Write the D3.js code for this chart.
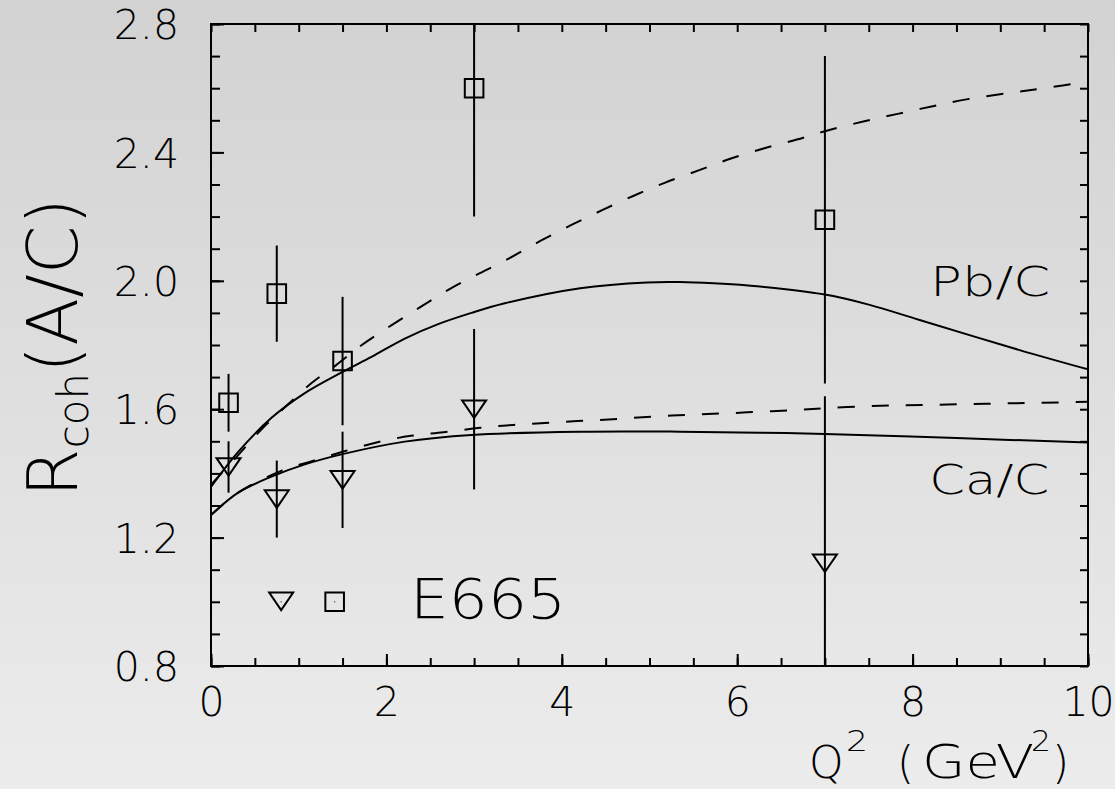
<!DOCTYPE html>
<html>
<head>
<meta charset="utf-8">
<script src="https://cdn.jsdelivr.net/npm/d3@7"></script>
<style>
  html, body { margin: 0; padding: 0; background: #dedede; }
  body { width: 1115px; height: 789px; overflow: hidden; }
  text { font-family: "DejaVu Sans", "Liberation Sans", sans-serif; font-weight: 200; fill: #000; }
</style>
</head>
<body>
<svg id="chart" width="1115" height="789"></svg>
<script>
// E665 measurements: coherent ratio R_coh(A/C) versus Q^2
const pbQ   = [0.2, 0.75, 1.5, 3.0, 7.0];
const pbR   = [1.62, 1.96, 1.75, 2.60, 2.19];
const pbErr = [0.09, 0.15, 0.20, 0.40, 0.51];

const caQ   = [0.2, 0.75, 1.5, 3.0, 7.0];
const caR   = [1.42, 1.32, 1.38, 1.60, 1.12];
const caErr = [0.08, 0.12, 0.15, 0.25, 0.52];

// Model predictions (solid and dashed) for Pb/C
const pbSolidQ = [0, 0.31, 0.69, 1.07, 1.5, 1.83, 2.21, 2.59, 2.97, 3.35, 4.21, 4.97, 5.35, 5.73, 6.26, 7.0, 7.51, 8.08, 9.22, 10];
const pbSolidR = [1.358, 1.467, 1.573, 1.65, 1.716, 1.763, 1.82, 1.865, 1.90, 1.93, 1.977, 1.995, 1.996, 1.992, 1.982, 1.957, 1.925, 1.878, 1.784, 1.724];
const pbDashQ  = [0, 0.32, 0.56, 0.83, 1.14, 1.43, 1.72, 2.06, 2.39, 2.72, 3.06, 3.4, 3.76, 4.11, 4.46, 4.82, 5.18, 5.56, 5.92, 6.31, 6.68, 7.05, 7.45, 7.83, 8.23, 8.63, 9.1, 9.5, 10];
const pbDashR  = [1.365, 1.46, 1.533, 1.603, 1.68, 1.738, 1.80, 1.862, 1.919, 1.974, 2.023, 2.07, 2.125, 2.174, 2.22, 2.265, 2.306, 2.344, 2.38, 2.413, 2.44, 2.47, 2.497, 2.52, 2.544, 2.566, 2.585, 2.60, 2.62];

// Model predictions (solid and dashed) for Ca/C
const caSolidQ = [0, 0.31, 0.69, 1.07, 1.5, 2.21, 2.97, 4.21, 5.35, 6.26, 7.0, 8.5, 10];
const caSolidR = [1.27, 1.34, 1.39, 1.428, 1.46, 1.499, 1.52, 1.53, 1.53, 1.527, 1.523, 1.51, 1.496];
const caDashQ  = [0, 0.31, 0.8, 1.15, 1.51, 1.91, 2.28, 2.65, 3.07, 3.45, 3.85, 4.25, 4.65, 5.05, 5.46, 5.86, 6.26, 6.66, 7.0, 7.45, 7.86, 8.26, 8.66, 9.05, 9.46, 10];
const caDashR  = [1.27, 1.34, 1.408, 1.438, 1.468, 1.498, 1.517, 1.528, 1.542, 1.551, 1.558, 1.564, 1.57, 1.577, 1.583, 1.587, 1.592, 1.597, 1.603, 1.609, 1.612, 1.614, 1.616, 1.618, 1.62, 1.623];

// Axis ticks and labels
const xMajor = [0, 2, 4, 6, 8, 10];
const xTickLabels = ["0", "2", "4", "6", "8", "10"];
const yMajor = [0.8, 1.2, 1.6, 2.0, 2.4, 2.8];
const yTickLabels = ["0.8", "1.2", "1.6", "2.0", "2.4", "2.8"];

const svg = d3.select("#chart");
const W = 1115, H = 789;
const margin = { left: 211, right: 27, top: 24, bottom: 123 };

const x = d3.scaleLinear().domain([0, 10]).range([margin.left, W - margin.right]);
const y = d3.scaleLinear().domain([0.8, 2.8]).range([H - margin.bottom, margin.top]);

// background
const defs = svg.append("defs");
const grad = defs.append("linearGradient").attr("id", "bg").attr("x1", 0).attr("y1", 0).attr("x2", 0).attr("y2", 1);
grad.append("stop").attr("offset", "0%").attr("stop-color", "#d2d2d2");
grad.append("stop").attr("offset", "100%").attr("stop-color", "#ececec");
svg.append("rect").attr("width", W).attr("height", H).attr("fill", "url(#bg)");

defs.append("clipPath").attr("id", "plotClip")
  .append("rect")
  .attr("x", x(0)).attr("y", y(2.8))
  .attr("width", x(10) - x(0)).attr("height", y(0.8) - y(2.8));

const range = (a, b, s) => d3.range(Math.round((b - a) / s) + 1).map(i => +(a + i * s).toFixed(3));

// minor ticks on all four sides (pointing inward)
const tickStyle = g => g.call(s => s.select(".domain").remove())
  .call(s => s.selectAll("line").attr("stroke", "#000").attr("stroke-width", 2));

svg.append("g").attr("transform", `translate(${x(0)},0)`)
  .call(d3.axisLeft(y).tickValues(range(0.8, 2.8, 0.1)).tickSize(-9).tickFormat(""))
  .call(tickStyle);
svg.append("g").attr("transform", `translate(${x(10)},0)`)
  .call(d3.axisRight(y).tickValues(range(0.8, 2.8, 0.1)).tickSize(-8).tickFormat(""))
  .call(tickStyle);
svg.append("g").attr("transform", `translate(0,${y(0.8)})`)
  .call(d3.axisBottom(x).tickValues(range(0, 10, 0.5)).tickSize(-8).tickFormat(""))
  .call(tickStyle);
svg.append("g").attr("transform", `translate(0,${y(2.8)})`)
  .call(d3.axisTop(x).tickValues(range(0, 10, 0.5)).tickSize(-8).tickFormat(""))
  .call(tickStyle);

// major ticks with labels
const yAxis = svg.append("g").attr("transform", `translate(${x(0)},0)`)
  .call(d3.axisLeft(y).tickValues(yMajor).tickSize(-13).tickPadding(32)
    .tickFormat((d, i) => yTickLabels[i]))
  .call(tickStyle);

const xAxis = svg.append("g").attr("transform", `translate(0,${y(0.8)})`)
  .call(d3.axisBottom(x).tickValues(xMajor).tickSize(-12).tickPadding(21)
    .tickFormat((d, i) => xTickLabels[i]))
  .call(tickStyle);

svg.selectAll("g").attr("font-family", null).attr("font-size", null);
yAxis.selectAll("text").attr("font-size", 41).attr("dy", "0.36em");
xAxis.selectAll("text").attr("font-size", 41);

// frame
svg.append("rect")
  .attr("x", x(0)).attr("y", y(2.8))
  .attr("width", x(10) - x(0)).attr("height", y(0.8) - y(2.8))
  .attr("fill", "none").attr("stroke", "#000").attr("stroke-width", 2);

// model curves
const plot = svg.append("g").attr("clip-path", "url(#plotClip)");
const line = d3.line().x(d => x(d[0])).y(d => y(d[1])).curve(d3.curveCatmullRom.alpha(0.5));
const curves = [
  { q: pbSolidQ, r: pbSolidR, dash: null },
  { q: pbDashQ,  r: pbDashR,  dash: "17,17" },
  { q: caSolidQ, r: caSolidR, dash: null },
  { q: caDashQ,  r: caDashR,  dash: "17,17" }
];
curves.forEach(c => {
  plot.append("path")
    .datum(c.q.map((q, i) => [q, c.r[i]]))
    .attr("d", line)
    .attr("fill", "none")
    .attr("stroke", "#000")
    .attr("stroke-width", 2)
    .attr("stroke-dasharray", c.dash);
});

// error bars
const bars = [];
pbQ.forEach((q, i) => bars.push([q, pbR[i] - pbErr[i], pbR[i] + pbErr[i]]));
caQ.forEach((q, i) => bars.push([q, caR[i] - caErr[i], caR[i] + caErr[i]]));
plot.selectAll("line.err").data(bars).join("line")
  .attr("class", "err")
  .attr("x1", d => x(d[0])).attr("x2", d => x(d[0]))
  .attr("y1", d => y(d[1])).attr("y2", d => y(d[2]))
  .attr("stroke", "#000").attr("stroke-width", 2);

// markers
const sq = 9.3;
const squarePath = (cx, cy) => `M${cx - sq},${cy - sq}H${cx + sq}V${cy + sq}H${cx - sq}Z`;
const triPath = (cx, cy) => `M${cx - 12},${cy - 8.8}H${cx + 12}L${cx},${cy + 8.8}Z`;

plot.selectAll("path.pb").data(pbQ).join("path")
  .attr("class", "pb")
  .attr("d", (q, i) => squarePath(x(q), y(pbR[i])))
  .attr("fill", "none").attr("stroke", "#000").attr("stroke-width", 2);
plot.selectAll("path.ca").data(caQ).join("path")
  .attr("class", "ca")
  .attr("d", (q, i) => triPath(x(q), y(caR[i])))
  .attr("fill", "none").attr("stroke", "#000").attr("stroke-width", 2);

// legend
const legY = 1.0;
svg.append("path").attr("d", triPath(x(0.8), y(legY) - 0.5))
  .attr("fill", "none").attr("stroke", "#000").attr("stroke-width", 2);
svg.append("path").attr("d", squarePath(x(1.41), y(legY)))
  .attr("fill", "none").attr("stroke", "#000").attr("stroke-width", 2);
svg.append("rect").attr("x", x(0.8) - 0.5).attr("y", y(legY) - 0.5).attr("width", 1).attr("height", 1).attr("fill", "#000");
svg.append("rect").attr("x", x(1.41) - 0.5).attr("y", y(legY) - 0.5).attr("width", 1).attr("height", 1).attr("fill", "#000");
svg.append("text")
  .attr("x", x(2.27)).attr("y", y(0.95))
  .attr("font-size", 56).attr("textLength", 156).attr("lengthAdjust", "spacingAndGlyphs")
  .text("E665");

// curve labels
svg.append("text")
  .attr("x", x(8.2)).attr("y", y(1.953))
  .attr("font-size", 40).attr("textLength", 120).attr("lengthAdjust", "spacingAndGlyphs")
  .text("Pb/C");
svg.append("text")
  .attr("x", x(8.19)).attr("y", y(1.336))
  .attr("font-size", 40).attr("textLength", 120).attr("lengthAdjust", "spacingAndGlyphs")
  .text("Ca/C");

// y-axis title
const yt = svg.append("text").attr("transform", "translate(77,497) rotate(-90)");
yt.append("tspan").attr("font-size", 70).text("R");
yt.append("tspan").attr("font-size", 42).attr("dy", 11).text("coh");
yt.append("tspan").attr("font-size", 70).attr("dy", -11).text("(A/C)");

// x-axis title
const xt = svg.append("g");
xt.append("text").attr("x", 809).attr("y", 778).attr("font-size", 44).text("Q");
xt.append("text").attr("x", 846).attr("y", 751).attr("font-size", 29)
  .attr("textLength", 22).attr("lengthAdjust", "spacingAndGlyphs").text("2");
xt.append("text").attr("x", 897).attr("y", 778).attr("font-size", 44).text("(");
xt.append("text").attr("x", 922).attr("y", 778).attr("font-size", 46)
  .attr("textLength", 112).attr("lengthAdjust", "spacingAndGlyphs").text("GeV");
xt.append("text").attr("x", 1031).attr("y", 751).attr("font-size", 29)
  .attr("textLength", 20).attr("lengthAdjust", "spacingAndGlyphs").text("2");
xt.append("text").attr("x", 1052).attr("y", 778).attr("font-size", 44).text(")");
</script>
</body>
</html>
